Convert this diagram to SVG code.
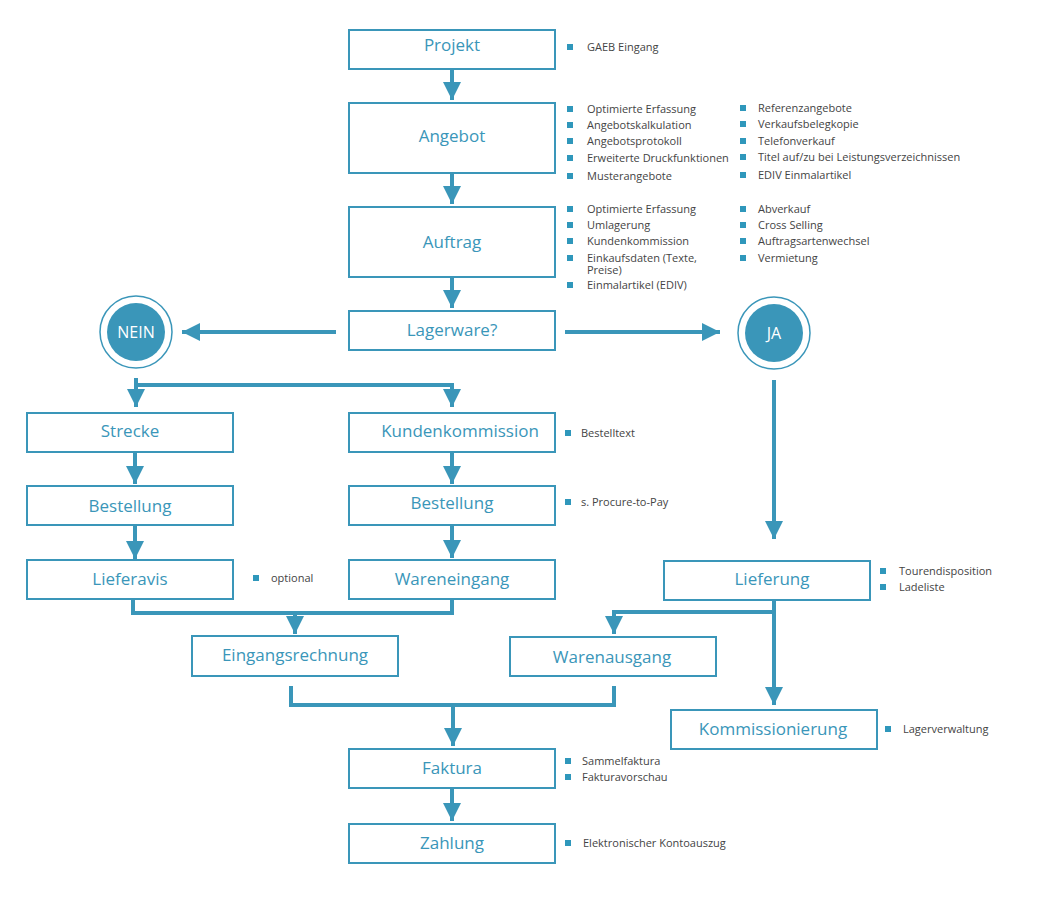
<svg xmlns="http://www.w3.org/2000/svg" width="1043" height="910" viewBox="0 0 1043 910">
<style>
.b{fill:#fff;stroke:#3a96b9;stroke-width:2}
.t{font-family:"Open Sans","Liberation Sans",sans-serif;font-size:17px;fill:#3a96b9;text-anchor:middle}
.n{font-family:"Open Sans","Liberation Sans",sans-serif;font-size:11px;fill:#444}
.q{fill:#2f97bb}
.c path{fill:none;stroke:#3a96b9;stroke-width:4}
.ct{font-family:"Open Sans","Liberation Sans",sans-serif;font-size:16px;fill:#fff;text-anchor:middle}
</style>
<defs>
<marker id="a" viewBox="0 0 10 10" refX="10" refY="5" markerWidth="4.5" markerHeight="4.5" markerUnits="strokeWidth" orient="auto"><path d="M0,0L10,5L0,10Z" fill="#3a96b9"/></marker>
</defs>
<rect width="1043" height="910" fill="#fff"/>
<g class="c">
<path d="M452,70V100" marker-end="url(#a)"/>
<path d="M452,174V204" marker-end="url(#a)"/>
<path d="M452,278V308" marker-end="url(#a)"/>
<path d="M336,332H182" marker-end="url(#a)"/>
<path d="M565,332H720" marker-end="url(#a)"/>
<path d="M136,378V407" marker-end="url(#a)"/>
<path d="M134,385H452V407" marker-end="url(#a)"/>
<path d="M135,453V484" marker-end="url(#a)"/>
<path d="M135,526V559" marker-end="url(#a)"/>
<path d="M452,453V484" marker-end="url(#a)"/>
<path d="M452,526V558" marker-end="url(#a)"/>
<path d="M133,600V613H452V600"/>
<path d="M295,613V634" marker-end="url(#a)"/>
<path d="M774,380V539" marker-end="url(#a)"/>
<path d="M774,600V705" marker-end="url(#a)"/>
<path d="M774,612H614V634" marker-end="url(#a)"/>
<path d="M291,686V705H614V686"/>
<path d="M453,705V746" marker-end="url(#a)"/>
<path d="M452,789V821" marker-end="url(#a)"/>
</g>
<g id="nein"><circle cx="136" cy="332" r="36" fill="#fff" stroke="#3a96b9" stroke-width="1.5"/><circle cx="136" cy="332" r="29" fill="#3a96b9"/><text class="ct" x="136" y="338">NEIN</text></g>
<g id="ja"><circle cx="774" cy="333" r="36" fill="#fff" stroke="#3a96b9" stroke-width="1.5"/><circle cx="774" cy="333" r="29" fill="#3a96b9"/><text class="ct" x="774" y="339">JA</text></g>
<g id="projekt"><rect class="b" x="349" y="30" width="206" height="39"/><text class="t" x="452" y="51">Projekt</text></g>
<g id="angebot"><rect class="b" x="349" y="103" width="206" height="70"/><text class="t" x="452" y="142">Angebot</text></g>
<g id="auftrag"><rect class="b" x="349" y="207" width="206" height="70"/><text class="t" x="452" y="248">Auftrag</text></g>
<g id="lagerware"><rect class="b" x="349" y="311" width="206" height="39"/><text class="t" x="452" y="336">Lagerware?</text></g>
<g id="strecke"><rect class="b" x="27" y="413" width="206" height="39"/><text class="t" x="130" y="437">Strecke</text></g>
<g id="kundenkommission"><rect class="b" x="349" y="413" width="206" height="39"/><text class="t" x="460" y="437">Kundenkommission</text></g>
<g id="bestellung1"><rect class="b" x="27" y="486" width="206" height="39"/><text class="t" x="130" y="512">Bestellung</text></g>
<g id="bestellung2"><rect class="b" x="349" y="486" width="206" height="39"/><text class="t" x="452" y="509">Bestellung</text></g>
<g id="lieferavis"><rect class="b" x="27" y="560" width="206" height="39"/><text class="t" x="130" y="585">Lieferavis</text></g>
<g id="wareneingang"><rect class="b" x="349" y="560" width="206" height="39"/><text class="t" x="452" y="585">Wareneingang</text></g>
<g id="lieferung"><rect class="b" x="664" y="561" width="206" height="39"/><text class="t" x="772" y="585">Lieferung</text></g>
<g id="eingangsrechnung"><rect class="b" x="192" y="636" width="206" height="40"/><text class="t" x="295" y="661">Eingangsrechnung</text></g>
<g id="warenausgang"><rect class="b" x="510" y="637" width="206" height="39"/><text class="t" x="612" y="663">Warenausgang</text></g>
<g id="kommissionierung"><rect class="b" x="671" y="710" width="206" height="39"/><text class="t" x="773" y="735">Kommissionierung</text></g>
<g id="faktura"><rect class="b" x="349" y="749" width="206" height="39"/><text class="t" x="452" y="774">Faktura</text></g>
<g id="zahlung"><rect class="b" x="349" y="824" width="206" height="39"/><text class="t" x="452" y="849">Zahlung</text></g>
<g id="notes">
<rect class="q" x="567" y="44" width="6" height="6"/><text class="n" x="587" y="51">GAEB Eingang</text>
<rect class="q" x="567" y="106" width="6" height="6"/><text class="n" x="587" y="113">Optimierte Erfassung</text>
<rect class="q" x="567" y="122" width="6" height="6"/><text class="n" x="587" y="129">Angebotskalkulation</text>
<rect class="q" x="567" y="138" width="6" height="6"/><text class="n" x="587" y="145">Angebotsprotokoll</text>
<rect class="q" x="567" y="155" width="6" height="6"/><text class="n" x="587" y="162">Erweiterte Druckfunktionen</text>
<rect class="q" x="567" y="173" width="6" height="6"/><text class="n" x="587" y="180">Musterangebote</text>
<rect class="q" x="740" y="105" width="6" height="6"/><text class="n" x="758" y="112">Referenzangebote</text>
<rect class="q" x="740" y="121" width="6" height="6"/><text class="n" x="758" y="128">Verkaufsbelegkopie</text>
<rect class="q" x="740" y="138" width="6" height="6"/><text class="n" x="758" y="145">Telefonverkauf</text>
<rect class="q" x="740" y="154" width="6" height="6"/><text class="n" x="758" y="161">Titel auf/zu bei Leistungsverzeichnissen</text>
<rect class="q" x="740" y="172" width="6" height="6"/><text class="n" x="758" y="179">EDIV Einmalartikel</text>
<rect class="q" x="567" y="206" width="6" height="6"/><text class="n" x="587" y="213">Optimierte Erfassung</text>
<rect class="q" x="567" y="222" width="6" height="6"/><text class="n" x="587" y="229">Umlagerung</text>
<rect class="q" x="567" y="238" width="6" height="6"/><text class="n" x="587" y="245">Kundenkommission</text>
<rect class="q" x="567" y="255" width="6" height="6"/><text class="n" x="587" y="262">Einkaufsdaten (Texte,</text><text class="n" x="587" y="274">Preise)</text>
<rect class="q" x="567" y="282" width="6" height="6"/><text class="n" x="587" y="289">Einmalartikel (EDIV)</text>
<rect class="q" x="740" y="206" width="6" height="6"/><text class="n" x="758" y="213">Abverkauf</text>
<rect class="q" x="740" y="222" width="6" height="6"/><text class="n" x="758" y="229">Cross Selling</text>
<rect class="q" x="740" y="238" width="6" height="6"/><text class="n" x="758" y="245">Auftragsartenwechsel</text>
<rect class="q" x="740" y="255" width="6" height="6"/><text class="n" x="758" y="262">Vermietung</text>
<rect class="q" x="565" y="430" width="6" height="6"/><text class="n" x="581" y="437">Bestelltext</text>
<rect class="q" x="565" y="499" width="6" height="6"/><text class="n" x="581" y="506">s. Procure-to-Pay</text>
<rect class="q" x="253" y="575" width="6" height="6"/><text class="n" x="271" y="582">optional</text>
<rect class="q" x="880" y="568" width="6" height="6"/><text class="n" x="899" y="575">Tourendisposition</text>
<rect class="q" x="880" y="584" width="6" height="6"/><text class="n" x="899" y="591">Ladeliste</text>
<rect class="q" x="885" y="726" width="6" height="6"/><text class="n" x="903" y="733">Lagerverwaltung</text>
<rect class="q" x="565" y="758" width="6" height="6"/><text class="n" x="582" y="765">Sammelfaktura</text>
<rect class="q" x="565" y="774" width="6" height="6"/><text class="n" x="582" y="781">Fakturavorschau</text>
<rect class="q" x="565" y="840" width="6" height="6"/><text class="n" x="583" y="847">Elektronischer Kontoauszug</text>
</g>
</svg>
